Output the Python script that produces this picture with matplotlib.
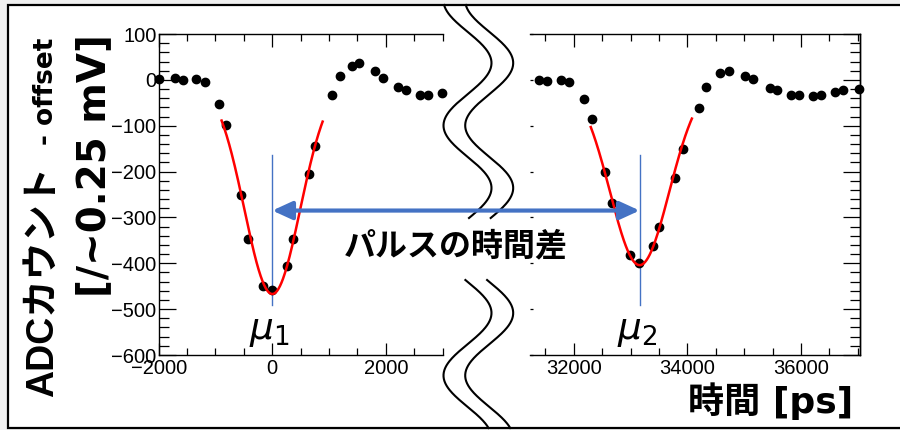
import numpy as np
import matplotlib
matplotlib.use("Agg")
import matplotlib.pyplot as plt
from matplotlib import font_manager
from matplotlib.patches import Rectangle, ConnectionPatch
from matplotlib.lines import Line2D
from matplotlib.ticker import MultipleLocator

# waveform samples, first pulse (left panel)
t1 = [-1988, -1718, -1572, -1337, -1191, -933, -809, -557, -422, -158, -6,
      252, 370, 639, 757, 1050, 1191, 1408, 1531, 1806, 1947, 2217, 2352,
      2604, 2739, 2979]
adc1 = [1, 3, -1, 1, -4, -52, -98, -250, -348, -449, -458,
        -405, -348, -206, -144, -34, 9, 31, 36, 20, 4, -15, -23,
        -32, -32, -28]

# second pulse (right panel)
t2 = [31395, 31530, 31783, 31912, 32182, 32317, 32546, 32670, 32993, 33145,
      33404, 33509, 33786, 33932, 34197, 34332, 34579, 34731, 35019, 35148,
      35448, 35577, 35830, 35965, 36212, 36352, 36599, 36734, 37016]
adc2 = [0, -2, 0, -5, -42, -85, -201, -269, -382, -399,
        -363, -320, -214, -151, -61, -16, 15, 19, 9, 2,
        -18, -23, -32, -34, -35, -33, -26, -23, -19]

# gaussian fit results (amplitude, mean, sigma, fit range)
fit1 = dict(amp=-467, mu=0, sigma=490, lo=-893, hi=886)
fit2 = dict(amp=-404, mu=33160, sigma=520, lo=32300, hi=34080)

xlim1 = (-2000, 3000)
xlim2 = (31230, 37040)
ylim = (-600, 100)
xticks1 = [-2000, 0, 2000]
xticks2 = [32000, 34000, 36000]

names = {f.name for f in font_manager.fontManager.ttflist}
narrow = 'Liberation Sans Narrow' if 'Liberation Sans Narrow' in names else 'Liberation Sans'
jp = 'Noto Sans CJK JP'
blue = '#4472C4'

W, H = 900, 430
fig = plt.figure(figsize=(W / 100, H / 100), dpi=100)
fig.patch.set_facecolor('#f0f0f0')
fig.add_artist(Rectangle((8 / W, 2 / H), 1.0, 1 - 7 / H, transform=fig.transFigure,
                         facecolor='white', edgecolor='black', lw=1.6, zorder=-1,
                         clip_on=False))

ax1 = fig.add_axes([158.7 / W, 75 / H, 284 / W, 321 / H])
ax2 = fig.add_axes([530 / W, 75 / H, 330 / W, 321 / H])


def gaus(p, n=200):
    x = np.linspace(p['lo'], p['hi'], n)
    return x, p['amp'] * np.exp(-(x - p['mu']) ** 2 / (2 * p['sigma'] ** 2))


for ax, t, a, fit, xl, xt in [(ax1, t1, adc1, fit1, xlim1, xticks1),
                              (ax2, t2, adc2, fit2, xlim2, xticks2)]:
    ax.set_facecolor('none')
    ax.plot(t, a, 'o', color='black', ms=6, clip_on=False, zorder=3)
    fx, fy = gaus(fit)
    ax.plot(fx, fy, color='red', lw=1.8, zorder=4)
    ax.plot([fit['mu'], fit['mu']], [-163, -490], color=blue, lw=1.0, zorder=2)
    ax.text(fit['mu'] - 50, -508, r'$\mu_{%d}$' % (1 if ax is ax1 else 2),
            ha='center', va='top', fontsize=27)
    ax.set_xlim(*xl)
    ax.set_ylim(*ylim)
    ax.set_xticks(xt)
    ax.xaxis.set_minor_locator(MultipleLocator(500))
    ax.yaxis.set_major_locator(MultipleLocator(100))
    ax.yaxis.set_minor_locator(MultipleLocator(20))
    ax.tick_params(axis='x', which='both', direction='in', top=True, width=0.9,
                   labelsize=14.5, pad=3)
    ax.tick_params(axis='x', which='major', length=9)
    ax.tick_params(axis='x', which='minor', length=5)
    for lab in ax.get_xticklabels() + ax.get_yticklabels():
        lab.set_family('Liberation Sans')
    for s in ax.spines.values():
        s.set_linewidth(1.0)

ax1.spines['right'].set_visible(False)
ax1.tick_params(axis='y', which='both', direction='in', right=False, width=0.9,
                labelsize=14.5, pad=1.5)
ax1.tick_params(axis='y', which='major', length=12)
ax1.tick_params(axis='y', which='minor', length=7)
for lab in ax1.get_yticklabels():
    lab.set_family('Liberation Sans')

ax2.spines['left'].set_visible(False)
ax2.tick_params(axis='y', which='major', direction='in', length=2, width=0.9,
                labelleft=False)
ax2.tick_params(axis='y', which='minor', left=False)
sec = ax2.secondary_yaxis('right')
sec.yaxis.set_major_locator(MultipleLocator(100))
sec.yaxis.set_minor_locator(MultipleLocator(20))
sec.tick_params(axis='y', which='both', direction='in', labelright=False, width=0.9)
sec.tick_params(axis='y', which='major', length=12)
sec.tick_params(axis='y', which='minor', length=7)
sec.spines['right'].set_linewidth(1.0)

# axis break marks between the panels (figure pixels)
for seg in [(5, 218), (280, 428)]:
    yy = np.linspace(seg[0], seg[1], 200)
    xx = 467.5 + 24 * np.cos(2 * np.pi * (yy - 63) / 125)
    for dx in (0, 21.7):
        fig.add_artist(Line2D((xx + dx) / W, 1 - yy / H, transform=fig.transFigure,
                              color='black', lw=1.5, zorder=5))

# time difference arrow
arr = ConnectionPatch(xyA=(fit1['mu'], -285), coordsA=ax1.transData,
                      xyB=(fit2['mu'], -285), coordsB=ax2.transData,
                      arrowstyle='<|-|>,head_length=1.2,head_width=0.55',
                      mutation_scale=10, color=blue, lw=3, shrinkA=0, shrinkB=0,
                      zorder=6)
fig.add_artist(arr)
fig.text(456 / W, 1 - 246 / H, 'パルスの時間差', ha='center', va='center',
         fontsize=23, fontweight='bold', family=[jp, 'DejaVu Sans'], zorder=7)

# axis titles
fig.text(53 / W, 1 - 397 / H, 'ADCカウント', rotation=90, rotation_mode='anchor',
         ha='left', va='baseline', fontsize=27, fontweight='bold', family=[narrow, jp])
fig.text(53 / W, 1 - 145 / H, '- offset', rotation=90, rotation_mode='anchor',
         ha='left', va='baseline', fontsize=19, fontweight='bold', family='DejaVu Sans')
fig.text(105 / W, 1 - 297 / H, '[/~0.25 mV]', rotation=90, rotation_mode='anchor',
         ha='left', va='baseline', fontsize=28, fontweight='bold', family='DejaVu Sans')
fig.text(853 / W, 1 - 413 / H, '時間 [ps]', ha='right', va='baseline',
         fontsize=26, fontweight='bold', family=['DejaVu Sans', jp])

fig.savefig('out.png', dpi=100, facecolor=fig.get_facecolor())
